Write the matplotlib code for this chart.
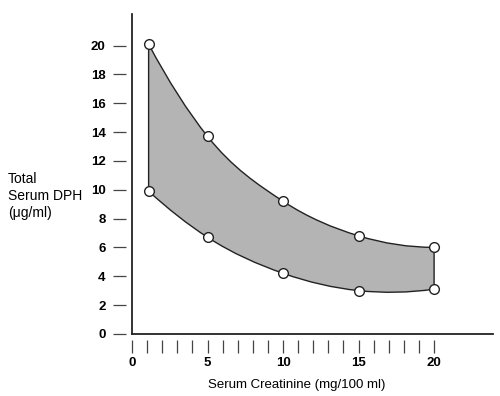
import matplotlib
matplotlib.use("Agg")
from matplotlib import pyplot as plt
from matplotlib.path import Path
from matplotlib.patches import PathPatch
import numpy as np

matplotlib.rcParams.update({
    'font.family': ['Liberation Sans', 'DejaVu Sans'],
    'font.size': 9.5,
})

# data
creatinine = [1.1, 5, 10, 15, 20]
dph_upper = [20.1, 13.7, 9.2, 6.8, 6.0]
dph_lower = [9.9, 6.7, 4.2, 3.0, 3.1]
y_ticks = [0, 2, 4, 6, 8, 10, 12, 14, 16, 18, 20]
x_labels = [0, 5, 10, 15, 20]
x_minor = list(range(0, 21))


def slopes(x, y):
    """Derivative at each knot from the parabola through it and its neighbours."""
    x = np.asarray(x, float)
    y = np.asarray(y, float)
    n = len(x)
    m = np.zeros(n)
    for i in range(n):
        j = min(max(i - 1, 0), n - 3)
        x0, x1, x2 = x[j:j + 3]
        y0, y1, y2 = y[j:j + 3]
        d01 = (y1 - y0) / (x1 - x0)
        d12 = (y2 - y1) / (x2 - x1)
        d012 = (d12 - d01) / (x2 - x0)
        m[i] = d01 + d012 * ((x[i] - x0) + (x[i] - x1))
    return m


def curve_path(xs, ys, reverse=False):
    """Hermite curve through the points as cubic bezier vertices."""
    x = np.asarray(xs, float)
    y = np.asarray(ys, float)
    m = slopes(x, y)
    idx = list(range(len(x)))
    if reverse:
        idx = idx[::-1]
    verts = [(x[idx[0]], y[idx[0]])]
    codes = []
    for a, b in zip(idx[:-1], idx[1:]):
        h = (x[b] - x[a]) / 3.0
        verts += [(x[a] + h, y[a] + h * m[a]),
                  (x[b] - h, y[b] - h * m[b]),
                  (x[b], y[b])]
        codes += [Path.CURVE4] * 3
    return verts, codes


fig = plt.figure(figsize=(5, 3.96), dpi=100)
ax = fig.add_axes([0.264, 0.157, 0.722, 0.808])

up_v, up_c = curve_path(creatinine, dph_upper)
lo_v, lo_c = curve_path(creatinine, dph_lower, reverse=True)

# shaded band: upper curve, right edge down, lower curve back, left edge up
band_verts = up_v + lo_v + [up_v[0]]
band_codes = [Path.MOVETO] + up_c + [Path.LINETO] + lo_c + [Path.CLOSEPOLY]
ax.add_patch(PathPatch(Path(band_verts, band_codes), facecolor='#b4b4b4',
                       edgecolor='#222222', lw=1.0, zorder=2))

ax.plot(creatinine, dph_upper, 'o', ms=7, mfc='white', mec='#222222', mew=1.0, zorder=3)
ax.plot(creatinine, dph_lower, 'o', ms=7, mfc='white', mec='#222222', mew=1.0, zorder=3)

ax.set_xlim(0, 23.9)
ax.set_ylim(0, 22.2)

for s in ['top', 'right']:
    ax.spines[s].set_visible(False)
for s in ['left', 'bottom']:
    ax.spines[s].set_linewidth(1.3)
    ax.spines[s].set_color('#222222')

# detached tick marks
ax.set_yticks(y_ticks)
ax.set_xticks(x_labels)
ax.tick_params(axis='y', length=0, pad=19)
ax.tick_params(axis='x', length=0, pad=17)
for lab in ax.get_xticklabels() + ax.get_yticklabels():
    lab.set_fontweight('bold')
    lab.set_fontsize(9.5)

ytr = ax.get_yaxis_transform()
ax.hlines(y_ticks, -0.053, -0.017, transform=ytr, colors='#444444', lw=0.9, clip_on=False)
xtr = ax.get_xaxis_transform()
ax.vlines(x_minor, -0.059, -0.019, transform=xtr, colors='#444444', lw=0.9, clip_on=False)

ax.set_xlabel('Serum Creatinine (mg/100 ml)', fontsize=9.5)
ax.xaxis.set_label_coords(0.457, -0.14)
fig.text(0.016, 0.505, 'Total\nSerum DPH\n(\u03bcg/ml)', fontsize=10, ha='left', va='center',
         linespacing=1.25)

fig.savefig('out.png', dpi=100)
